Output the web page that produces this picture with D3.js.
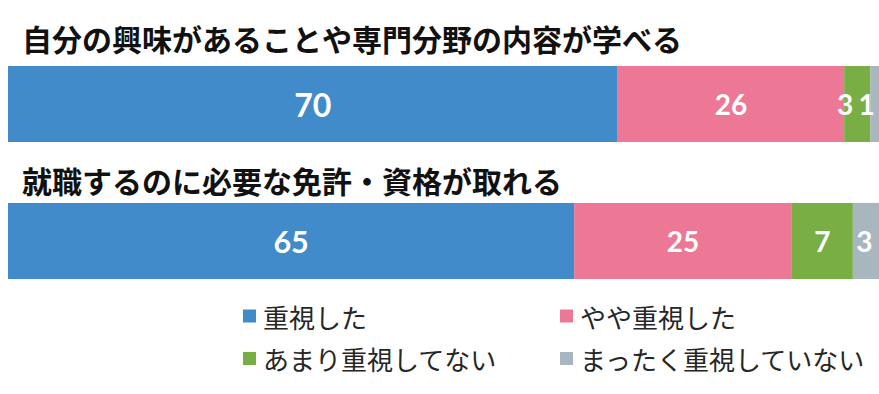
<!DOCTYPE html>
<html>
<head>
<meta charset="utf-8">
<script src="https://cdn.jsdelivr.net/npm/d3@7"></script>
<style>
  body { margin: 0; background: #fff; }
  svg { display: block; }
</style>
</head>
<body>
<svg id="chart"></svg>
<script>
let questions = ["自分の興味があることや専門分野の内容が学べる", "就職するのに必要な免許・資格が取れる"];
let keys = ["重視した", "やや重視した", "あまり重視してない", "まったく重視していない"];
let values1 = [70, 26, 3, 1];
let values2 = [65, 25, 7, 3];

let width = 879, height = 394;

let svg = d3.select("#chart")
    .attr("width", width)
    .attr("height", height);

let data = questions.map(function(q, i) {
    let row = { question: q };
    let vals = i === 0 ? values1 : values2;
    keys.forEach(function(k, j) { row[k] = vals[j]; });
    return row;
});

let stackedData = d3.stack().keys(keys)(data);

let x = d3.scaleLinear()
    .domain([0, 100])
    .range([8, 879]);

let y = d3.scaleBand()
    .domain(questions)
    .range([66, 279])
    .paddingInner(0.445)
    .paddingOuter(0);

let color = d3.scaleOrdinal()
    .domain(keys)
    .range(["#418bca", "#ed7896", "#78ae44", "#a8b6bf"]);

// question titles
svg.selectAll(".title")
    .data(questions)
    .join("text")
    .attr("class", "title")
    .attr("x", 22)
    .attr("y", function(d, i) { return y(d) - (i === 0 ? 28 : 23); })
    .attr("dominant-baseline", "central")
    .style("font-family", "'Noto Sans CJK JP', sans-serif")
    .style("font-size", "30px")
    .style("font-weight", "bold")
    .style("fill", "#111")
    .text(function(d) { return d; });

let layers = svg.selectAll(".layer")
    .data(stackedData)
    .join("g")
    .attr("class", "layer")
    .style("fill", function(d) { return color(d.key); });

layers.selectAll("rect")
    .data(function(d) { return d; })
    .join("rect")
    .attr("x", function(d) { return x(d[0]); })
    .attr("width", function(d) { return x(d[1]) - x(d[0]); })
    .attr("y", function(d) { return y(d.data.question); })
    .attr("height", y.bandwidth());

// value labels
let fontSize = function(v) {
    if (v >= 70) return 32;
    if (v >= 60) return 30.5;
    return 28;
};
// small segments: label nudged left so it stays inside the chart
let nudge = function(v, key, q) {
    if (q === questions[0] && v < 5) return key === keys[3] ? -8 : -12;
    if (v < 5) return -1.5;
    return 0;
};

layers.each(function(layer) {
    d3.select(this).selectAll("text")
        .data(layer)
        .join("text")
        .attr("x", function(d) {
            let v = d[1] - d[0];
            return (x(d[0]) + x(d[1])) / 2 + nudge(v, layer.key, d.data.question);
        })
        .attr("y", function(d) { return y(d.data.question) + y.bandwidth() / 2; })
        .attr("text-anchor", "middle")
        .attr("dominant-baseline", "central")
        .style("font-family", "Lato, sans-serif")
        .style("font-weight", "bold")
        .style("font-size", function(d) { return fontSize(d[1] - d[0]) + "px"; })
        .style("fill", "#fff")
        .text(function(d) { return d[1] - d[0]; });
});

// legend
let legendX = [243, 560];
let legendY = [316, 358.5];
let size = 13;

let legend = svg.selectAll(".legend")
    .data(keys)
    .join("g")
    .attr("class", "legend")
    .attr("transform", function(d, i) {
        return `translate(${legendX[i % 2]}, ${legendY[Math.floor(i / 2)]})`;
    });

legend.append("rect")
    .attr("x", 0)
    .attr("y", -size / 2)
    .attr("width", size)
    .attr("height", size)
    .style("fill", function(d) { return color(d); });

legend.append("text")
    .attr("x", size + 7)
    .attr("y", 0)
    .attr("dominant-baseline", "central")
    .style("font-family", "'Noto Sans CJK JP', sans-serif")
    .style("font-size", "26px")
    .style("fill", "#262626")
    .text(function(d) { return d; });
</script>
</body>
</html>
